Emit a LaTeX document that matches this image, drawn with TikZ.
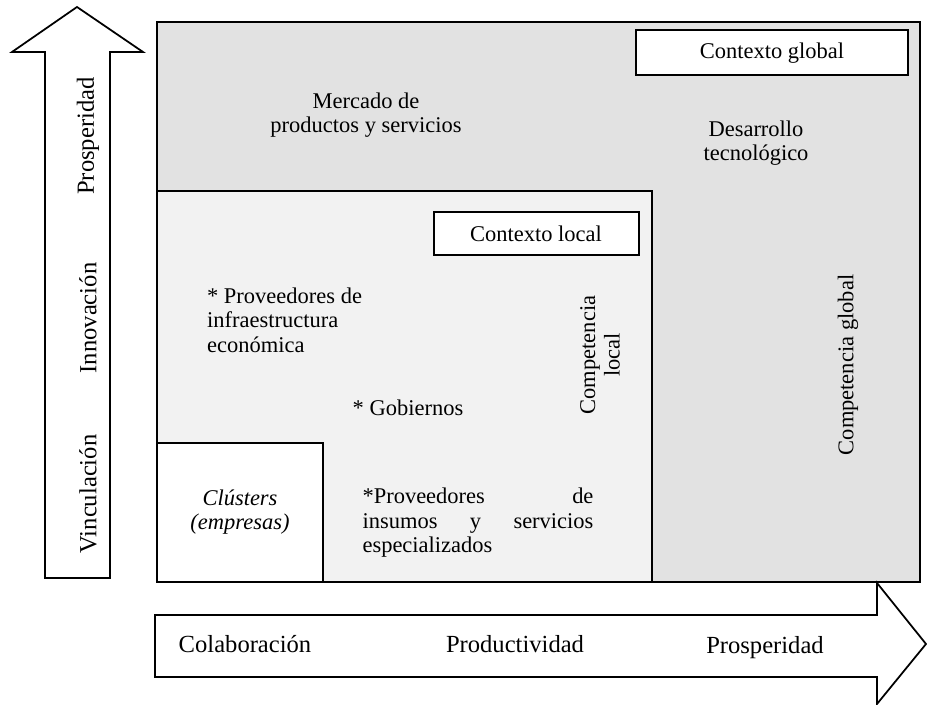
\documentclass[tikz,border=0pt]{standalone}
\usepackage{fontspec}
\setmainfont{Liberation Serif}
\definecolor{globalgray}{HTML}{E2E2E2}
\definecolor{localgray}{HTML}{F2F2F2}
\tikzset{
  txt/.style={font=\fontsize{12.8}{14}\selectfont, align=center, inner sep=1pt},
  axis/.style={font=\fontsize{14}{16}\selectfont, inner sep=1pt},
  frame/.style={draw=black, line width=1pt},
  tag/.style={draw=black, line width=1pt, fill=white}
}
\begin{document}
\begin{tikzpicture}[x=0.02cm, y=0.02cm, line join=miter]
\useasboundingbox (0,0) rectangle (927,705);

\draw[frame, fill=globalgray] (157,123) rectangle (920,683);
\draw[frame, fill=localgray] (157,123) rectangle (652,514);
\draw[tag] (157,123) rectangle (323,262);
\draw[tag] (636,630) rectangle (908,675);
\draw[tag] (434,450) rectangle (639,493);

\draw[frame, fill=white] (45,127) -- (45,653) -- (12,653) -- (77,698) -- (143,653) -- (110,653) -- (110,127) -- cycle;
\draw[frame, fill=white] (155,90) -- (877,90) -- (877,122) -- (926,61) -- (877,1) -- (877,28) -- (155,28) -- cycle;

\node[txt] (cglobal) at (772,652) {Contexto global};
\node[txt] (clocal) at (536,471) {Contexto local};
\node[txt] (mercado) at (366,590) {Mercado de\\productos y servicios};
\node[txt] (desarrollo) at (756,562) {Desarrollo\\tecnológico};
\node[txt, rotate=90] (compglobal) at (848,340) {Competencia global};
\node[txt, rotate=90] (complocal) at (600,350) {Competencia\\local};
\node[txt, anchor=west, align=left] (infra) at (205,385) {* Proveedores de\\infraestructura\\económica};
\node[txt] (gob) at (408,297) {* Gobiernos};
\node[txt, text width=4.62cm, align=left] (insumos) at (478,182) {*Proveedores\hfill de\\insumos\hfill y\hfill servicios\\especializados};
\node[txt, font=\fontsize{12.8}{14}\selectfont\itshape] (clusters) at (240,193) {Clústers\\(empresas)};

\node[axis, rotate=90] (vinc) at (88,211) {Vinculación};
\node[axis, rotate=90] (innov) at (88,387) {Innovación};
\node[axis, rotate=90] (prosp1) at (88,569) {Prosperidad};

\node[axis] (colab) at (245,61) {Colaboración};
\node[axis] (prod) at (515,61) {Productividad};
\node[axis] (prosp2) at (765,57) {Prosperidad};
\end{tikzpicture}
\end{document}
